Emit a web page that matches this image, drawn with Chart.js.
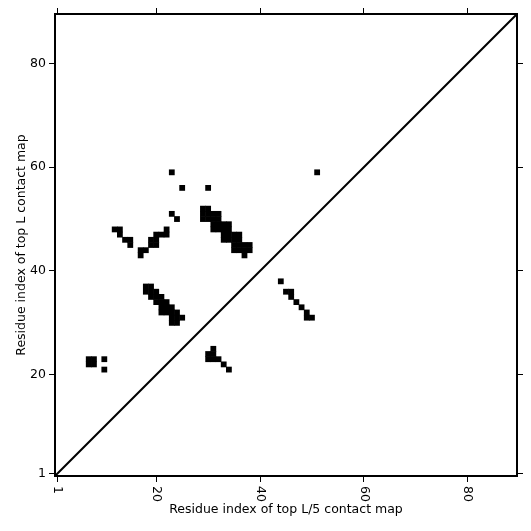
<!DOCTYPE html>
<html>
<head>
<meta charset="utf-8">
<script src="https://cdn.jsdelivr.net/npm/chart.js@4/dist/chart.umd.min.js"></script>
<style>
html, body { margin: 0; padding: 0; background: #fff; }
#wrap { width: 531px; height: 531px; }
</style>
</head>
<body>
<div id="wrap"><canvas id="contactChart" width="531" height="531"></canvas></div>
<script>
// axis range and ticks (residue numbers)
const residueMin = 0.5;
const residueMax = 89.5;
const tickValues = [1, 20, 40, 60, 80];
const xTitle = 'Residue index of top L/5 contact map';
const yTitle = 'Residue index of top L contact map';

// contacts: residue i (x) / residue j (y)
const contactX = [
    7, 7, 8, 8, 10, 10,
    12, 13, 13, 14, 15, 15,
    17, 17, 18, 19, 19, 20, 20, 20, 21, 22, 22,
    23, 24, 23, 25, 30, 51,
    29, 29, 29, 30, 30, 30,
    31, 31, 31, 31, 32, 32, 32, 32,
    33, 33, 33, 33, 34, 34, 34, 34,
    35, 35, 35, 35, 36, 36, 36, 36,
    37, 37, 38, 38, 37,
    18, 19, 18, 19, 20, 19, 20, 21, 20, 21, 22, 21, 22, 23,
    21, 22, 23, 24, 23, 24, 25, 23, 24,
    30, 30, 31, 31, 31, 32, 33, 34,
    44, 45, 46, 46, 47, 48, 49, 49, 50
];
const contactY = [
    22, 23, 22, 23, 23, 21,
    48, 48, 47, 46, 46, 45,
    43, 44, 44, 45, 46, 45, 46, 47, 47, 47, 48,
    51, 50, 59, 56, 56, 59,
    50, 51, 52, 50, 51, 52,
    48, 49, 50, 51, 48, 49, 50, 51,
    46, 47, 48, 49, 46, 47, 48, 49,
    44, 45, 46, 47, 44, 45, 46, 47,
    44, 45, 44, 45, 43,
    37, 37, 36, 36, 36, 35, 35, 35, 34, 34, 34, 33, 33, 33,
    32, 32, 32, 32, 31, 31, 31, 30, 30,
    23, 24, 23, 24, 25, 23, 22, 21,
    38, 36, 36, 35, 34, 33, 32, 31, 31
];
const diagonal = [residueMin, residueMax];

const fontFamily = '"DejaVu Sans", sans-serif';
const fontSize = 12.5;

function fixTicks(scale) {
    scale.ticks = tickValues.map(v => ({ value: v }));
}

// x tick labels read top-to-bottom in the reference, so they are drawn here
const rotatedXLabels = {
    id: 'rotatedXLabels',
    afterDraw(chart) {
        const sx = chart.scales.x;
        const ctx = chart.ctx;
        ctx.save();
        ctx.font = fontSize + 'px ' + fontFamily;
        ctx.fillStyle = '#000';
        ctx.textAlign = 'left';
        ctx.textBaseline = 'middle';
        tickValues.forEach(v => {
            ctx.save();
            ctx.translate(sx.getPixelForValue(v), chart.chartArea.bottom + 10);
            ctx.rotate(Math.PI / 2);
            ctx.fillText(String(v), 0, 0);
            ctx.restore();
        });
        ctx.restore();
    }
};

const tickGrid = { drawOnChartArea: false, drawTicks: true, tickLength: 6, tickWidth: 1, tickColor: '#000' };
const frame = { display: true, color: '#000', width: 2 };

new Chart(document.getElementById('contactChart'), {
    type: 'scatter',
    data: {
        datasets: [
            {
                data: contactX.map((x, i) => ({ x: x, y: contactY[i] })),
                pointStyle: 'rect',
                pointRadius: 4.1,
                pointBorderWidth: 0,
                backgroundColor: '#000',
                borderColor: '#000'
            },
            {
                type: 'line',
                data: diagonal.map(v => ({ x: v, y: v })),
                borderColor: '#000',
                borderWidth: 2,
                pointRadius: 0,
                fill: false
            }
        ]
    },
    options: {
        responsive: false,
        animation: false,
        devicePixelRatio: 1,
        events: [],
        layout: { padding: 0 },
        plugins: { legend: { display: false }, tooltip: { enabled: false } },
        scales: {
            x: {
                type: 'linear', position: 'bottom', min: residueMin, max: residueMax,
                afterBuildTicks: fixTicks,
                afterFit: s => { s.height = 55; },
                ticks: { display: false },
                grid: tickGrid, border: frame,
                title: { display: true, text: xTitle, color: '#000', font: { family: fontFamily, size: fontSize }, padding: { top: 0, bottom: 14 } }
            },
            y: {
                type: 'linear', position: 'left', min: residueMin, max: residueMax,
                afterBuildTicks: fixTicks,
                afterFit: s => { s.width = 55; },
                ticks: { display: true, color: '#000', padding: 3, font: { family: fontFamily, size: fontSize } },
                grid: tickGrid, border: frame,
                title: { display: true, text: yTitle, color: '#000', font: { family: fontFamily, size: fontSize }, padding: { top: 14, bottom: 0 } }
            },
            x2: {
                type: 'linear', position: 'top', min: residueMin, max: residueMax,
                afterBuildTicks: fixTicks,
                afterFit: s => { s.height = 14; },
                ticks: { display: false },
                grid: tickGrid, border: frame
            },
            y2: {
                type: 'linear', position: 'right', min: residueMin, max: residueMax,
                afterBuildTicks: fixTicks,
                afterFit: s => { s.width = 14; },
                ticks: { display: false },
                grid: tickGrid, border: frame
            }
        }
    },
    plugins: [rotatedXLabels]
});
</script>
</body>
</html>
